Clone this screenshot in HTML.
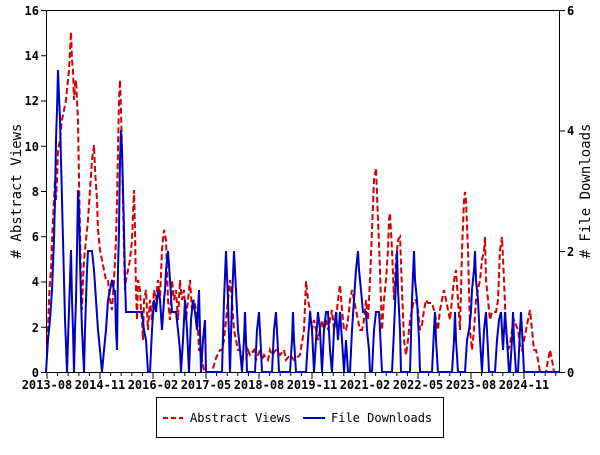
<!DOCTYPE html>
<html><head><meta charset="utf-8"><style>
body{margin:0;background:#fff;}
svg text{font-family:"DejaVu Sans Mono","Liberation Mono",monospace;font-weight:bold;font-size:12px;fill:#000;}
</style></head><body>
<svg width="600" height="450" viewBox="0 0 600 450" xmlns="http://www.w3.org/2000/svg">
<rect x="46.5" y="10.5" width="513" height="362" fill="none" stroke="#000" stroke-width="1"/>
<g stroke="#000" stroke-width="1">
<line x1="41" y1="10.5" x2="46" y2="10.5"/><line x1="41" y1="55.75" x2="46" y2="55.75"/><line x1="41" y1="101" x2="46" y2="101"/><line x1="41" y1="146.25" x2="46" y2="146.25"/><line x1="41" y1="191.5" x2="46" y2="191.5"/><line x1="41" y1="236.75" x2="46" y2="236.75"/><line x1="41" y1="282" x2="46" y2="282"/><line x1="41" y1="327.25" x2="46" y2="327.25"/><line x1="41" y1="372.5" x2="46" y2="372.5"/>
<line x1="559" y1="10.5" x2="565" y2="10.5"/><line x1="559" y1="131" x2="565" y2="131"/><line x1="559" y1="251.5" x2="565" y2="251.5"/><line x1="559" y1="372.5" x2="565" y2="372.5"/>
<line x1="47" y1="372" x2="47" y2="379"/><line x1="100" y1="372" x2="100" y2="379"/><line x1="153" y1="372" x2="153" y2="379"/><line x1="206" y1="372" x2="206" y2="379"/><line x1="259" y1="372" x2="259" y2="379"/><line x1="312" y1="372" x2="312" y2="379"/><line x1="365" y1="372" x2="365" y2="379"/><line x1="418" y1="372" x2="418" y2="379"/><line x1="471" y1="372" x2="471" y2="379"/><line x1="524" y1="372" x2="524" y2="379"/>
</g>
<g stroke="#000" stroke-width="1" id="minor"></g>
<g text-anchor="end">
<text x="39" y="15">16</text><text x="39" y="60">14</text><text x="39" y="105">12</text><text x="39" y="151">10</text><text x="39" y="196">8</text><text x="39" y="241">6</text><text x="39" y="286">4</text><text x="39" y="332">2</text><text x="39" y="377">0</text>
</g>
<g>
<text x="567" y="15">6</text><text x="567" y="135">4</text><text x="567" y="256">2</text><text x="567" y="377">0</text>
</g>
<g text-anchor="middle">
<text x="47" y="389">2013-08</text><text x="100" y="389">2014-11</text><text x="153" y="389">2016-02</text><text x="206" y="389">2017-05</text><text x="259" y="389">2018-08</text><text x="312" y="389">2019-11</text><text x="365" y="389">2021-02</text><text x="418" y="389">2022-05</text><text x="471" y="389">2023-08</text><text x="524" y="389">2024-11</text>
</g>
<text transform="translate(21,191) rotate(-90)" text-anchor="middle" style="font-size:14px;font-weight:normal">#  Abstract Views</text>
<text transform="translate(590,191) rotate(-90)" text-anchor="middle" style="font-size:14px;font-weight:normal">#  File Downloads</text>
<polyline fill="none" stroke="#d00000" stroke-width="2" stroke-dasharray="6,3" points="47,350 48,330 49,300 50,280 51,270 52,240 54,200 55,180 56,200 57,180 58,150 60,140 62,120 64,110 66,100 68,80 69,70 70,50 71,32 72,60 73,70 74,100 75,85 76,80 77,100 78,120 79,180 80,230 81,280 82,310 83,280 84,260 85,250 86,240 88,220 90,190 92,160 94,145 95,170 96,185 97,200 98,230 100,250 102,260 104,270 106,280 108,280 110,300 112,310 114,280 116,240 117,200 118,150 119,100 120,80 121,110 122,150 123,200 124,250 125,290 126,280 128,270 130,260 132,240 134,190 135,230 136,290 137,320 138,280 140,290 141,310 142,320 143,340 144,300 146,290 148,330 150,300 152,320 154,290 156,300 158,280 160,300 162,250 164,230 166,240 168,300 170,320 172,280 174,300 176,290 178,320 180,280 182,300 184,290 186,320 188,300 190,280 192,310 194,300 196,310 198,330 199,350 200,350 202,360 204,370 206,372 212,372 216,358 220,350 222,350 224,340 226,320 228,300 230,280 232,300 234,330 236,340 238,350 240,350 242,360 246,360 248,350 250,355 254,350 256,360 260,350 262,360 264,355 268,360 270,350 272,355 276,350 280,355 284,350 286,360 290,355 294,360 300,355 304,330 306,281 308,300 310,310 312,330 314,320 316,330 318,340 320,330 322,320 324,330 326,320 328,330 330,320 332,310 334,330 336,320 338,300 340,285 342,310 344,330 346,330 348,320 350,300 352,290 354,300 356,310 358,320 360,330 362,330 364,320 366,300 368,320 370,280 372,230 374,180 376,168 378,220 380,270 382,330 384,300 386,280 388,250 389,220 390,213 392,250 394,300 396,260 398,240 400,237 402,290 404,340 406,355 408,340 410,320 412,310 414,300 416,300 418,310 420,330 422,325 424,310 426,300 428,303 432,303 434,310 436,320 438,330 440,310 442,300 444,290 446,300 448,310 450,320 452,300 454,280 456,270 458,300 460,330 462,250 464,200 465,192 466,200 468,250 470,330 472,350 474,330 476,300 478,290 480,280 482,260 484,250 485,237 486,280 488,300 490,320 492,312 496,312 498,300 500,250 502,237 504,280 506,330 508,350 510,345 512,330 514,320 516,325 518,330 520,345 522,350 524,340 526,330 528,320 530,310 532,330 534,350 536,350 538,360 540,372 546,372 548,360 550,350 552,360 554,372 559,372"/>
<polyline fill="none" stroke="#0000c0" stroke-width="2" points="46,372 48,340 50,320 52,290 54,240 55,200 56,140 57,110 58,70 59,95 60,120 61,160 62,200 63,240 64,280 65,320 66,345 67,372 68,340 69,310 70,280 71,250 72,300 73,330 74,372 75,330 76,300 77,250 78,190 79,210 80,260 81,300 82,330 83,350 84,372 85,330 86,300 87,270 88,251 90,251 92,251 94,270 96,300 98,330 100,350 102,372 104,350 106,330 108,300 110,290 112,280 114,291 115,291 116,330 117,350 118,270 119,230 120,160 121,130 122,150 123,190 124,230 125,280 126,312 140,312 142,312 144,330 146,340 148,372 150,372 152,330 154,300 156,312 158,290 160,300 162,330 164,300 165,290 166,270 168,251 170,280 172,312 176,312 178,330 180,350 181,372 183,340 185,300 187,330 189,372 191,320 193,300 195,312 197,330 199,290 201,372 203,340 205,320 206,372 222,372 224,300 226,251 228,300 230,372 232,300 234,251 236,290 238,330 240,350 242,372 244,340 245,312 246,340 247,372 255,372 257,330 259,312 261,350 262,372 272,372 274,330 276,312 278,350 279,372 290,372 292,340 293,312 294,340 296,372 306,372 308,340 310,312 312,330 314,372 316,340 318,312 320,330 322,372 324,330 326,312 328,312 330,350 332,372 334,330 336,312 338,340 340,312 342,340 344,372 346,340 348,372 350,372 352,330 354,300 356,270 358,251 359,270 361,290 363,312 366,312 367,330 369,350 370,372 372,372 374,330 376,312 379,312 380,330 382,372 392,372 394,330 396,280 397,251 398,290 400,330 401,372 410,372 412,300 414,251 415,280 417,300 419,340 420,372 432,372 434,330 435,312 436,340 438,372 452,372 454,340 455,312 456,340 458,372 465,372 467,340 469,330 471,312 472,290 474,270 475,251 476,280 478,300 480,340 482,372 484,330 486,312 488,350 489,372 495,372 497,340 499,320 501,312 503,350 505,312 507,340 509,372 510,372 512,340 513,312 514,340 516,372 518,372 520,330 521,312 522,330 524,372 559,372"/>
<rect x="156.5" y="397.5" width="287" height="40" fill="#fff" stroke="#000" stroke-width="1"/>
<line x1="163" y1="418" x2="183" y2="418" stroke="#d00000" stroke-width="2" stroke-dasharray="5,3"/>
<text x="190" y="422" style="font-weight:normal">Abstract Views</text>
<line x1="303" y1="418" x2="325" y2="418" stroke="#0000c0" stroke-width="2"/>
<text x="331" y="422" style="font-weight:normal">File Downloads</text>
</svg>
<script>
var g=document.getElementById('minor'),s='';
for(var x=47;x<=559;x+=53/5){if(Math.abs((x-47)%53)>1&&Math.abs((x-47)%53-53)>1)s+='<line x1="'+x.toFixed(1)+'" y1="372" x2="'+x.toFixed(1)+'" y2="376"/>';}
g.innerHTML=s;
</script>
</body></html>
